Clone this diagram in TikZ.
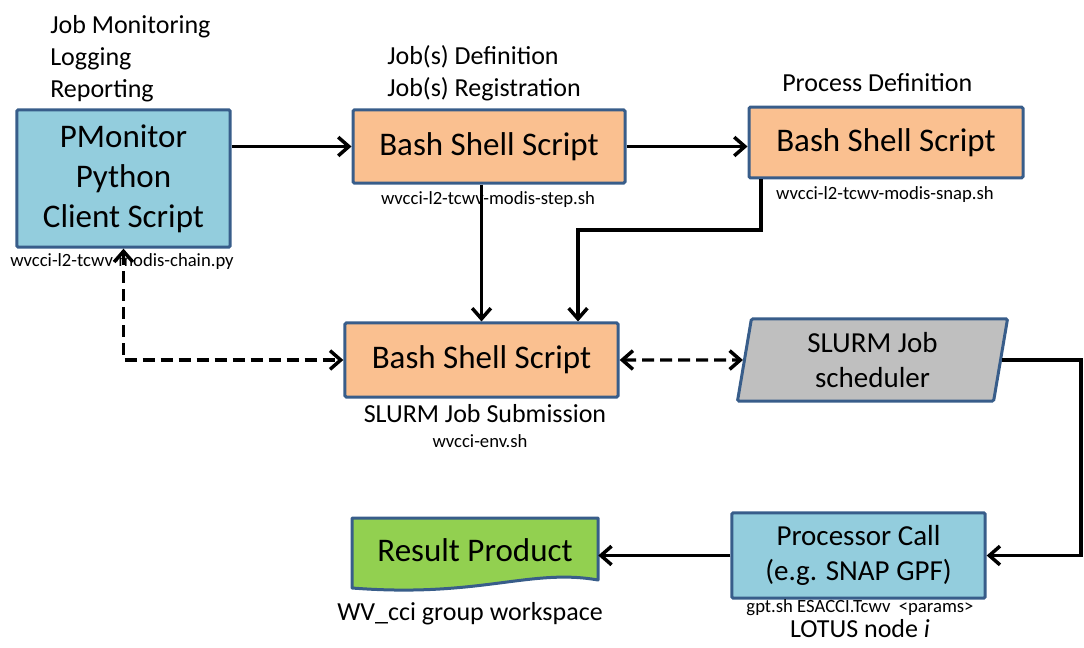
\documentclass[tikz,border=0pt]{standalone}
\usepackage{fontspec}
\setmainfont{Carlito}
\usetikzlibrary{arrows.meta,shapes.geometric}
\definecolor{boxblue}{HTML}{93CDDD}
\definecolor{boxorange}{HTML}{FAC090}
\definecolor{boxgray}{HTML}{BFBFBF}
\definecolor{boxgreen}{HTML}{92D050}
\definecolor{boxedge}{HTML}{385D8A}

\begin{document}
\begin{tikzpicture}[x=0.75pt,y=-0.75pt,
  >={Straight Barb[length=8pt,width=14pt]},
  box/.style={draw=boxedge, line width=2.25pt, rounded corners=1pt, align=center, inner sep=0pt},
  big/.style={font=\fontsize{24.75}{30}\selectfont},
  mid/.style={font=\fontsize{21.75}{26.5}\selectfont},
  lbl/.style={font=\fontsize{19.5}{24}\selectfont, inner sep=0pt, align=left},
  small/.style={font=\fontsize{14}{16}\selectfont, inner sep=0pt},
  flow/.style={line width=2.6pt, ->},
  dflow/.style={line width=2.6pt, <->, dash pattern=on 9pt off 4.5pt}]
\useasboundingbox (0,0) rectangle (1084,648);
% Boxes
\node[box, big, fill=boxblue, minimum width=160pt, minimum height=103pt] (pmon) at (123.5,178.5) {PMonitor\\Python\\Client Script};
\node[box, big, fill=boxorange, minimum width=204pt, minimum height=55pt] (bash1) at (489,146.5) {Bash Shell Script};
\node[box, big, fill=boxorange, minimum width=205.5pt, minimum height=53pt] (bash2) at (886,142.5) {Bash Shell Script};
\node[box, big, fill=boxorange, minimum width=205pt, minimum height=55.5pt] (bash3) at (481.5,360) {Bash Shell Script};
\node[box, mid, fill=boxgray, trapezium, trapezium left angle=76, trapezium right angle=104, trapezium stretches body, minimum width=202.5pt, minimum height=61.5pt] (sched) at (872.5,360) {SLURM Job\\scheduler};
\node[box, mid, fill=boxblue, minimum width=190pt, minimum height=64pt] (proc) at (858.5,555.5) {Processor Call\\(e.g. SNAP GPF)};
\filldraw[fill=boxgreen, draw=boxedge, line width=2.25pt, line join=round] (352,518) -- (598,518) -- (598,580) .. controls (530,568) and (480,598) .. (352,588) -- cycle;
\node[big, inner sep=0pt, minimum width=184.5pt] (result) at (475,550) {Result Product};
% Labels
\node[lbl, anchor=north west] (monlbl) at (50,15) {Job Monitoring\\Logging\\Reporting};
\node[lbl, anchor=north west] (deflbl) at (387,45) {Job(s) Definition\\Job(s) Registration};
\node[lbl, anchor=base west] (proclbl) at (782,92) {Process Definition};
\node[small, anchor=base] (chainpy) at (122,267) {wvcci-l2-tcwv-modis-chain.py};
\node[small, anchor=base] (stepsh) at (488,205) {wvcci-l2-tcwv-modis-step.sh};
\node[small, anchor=base] (snapsh) at (885,200) {wvcci-l2-tcwv-modis-snap.sh};
\node[lbl, anchor=base] (sublbl) at (485,422) {SLURM Job Submission};
\node[small, anchor=base] (envsh) at (480,447) {wvcci-env.sh};
\node[lbl, anchor=base] (wslbl) at (470,620) {WV\_cci group workspace};
\node[small, anchor=base] (gptsh) at (860,612) {gpt.sh ESACCI.Tcwv\ \ <params>};
\node[lbl, anchor=base] (lotus) at (860,637) {LOTUS node \textit{i}};
% Lines
\coordinate (bend) at (578,230);
\coordinate (turn) at (1081,0);
\draw[flow] (bash1.west -| pmon.east) -- (bash1.west);
\draw[flow] (bash1.east) -- (bash1.east -| bash2.west);
\draw[flow] (bash3.north |- bash1.south) -- (bash3.north);
\draw[flow] ([xshift=10pt]bash2.south west) |- (bend) -- (bend |- bash3.north);
\draw[dflow] (pmon.south) |- (bash3.west);
\draw[dflow] (bash3.east) -- (sched.west);
\draw[flow] (sched.east) -- (sched.east -| turn) |- (proc.east);
\draw[flow] (proc.west) -- (proc.west -| result.east);
\end{tikzpicture}
\end{document}
